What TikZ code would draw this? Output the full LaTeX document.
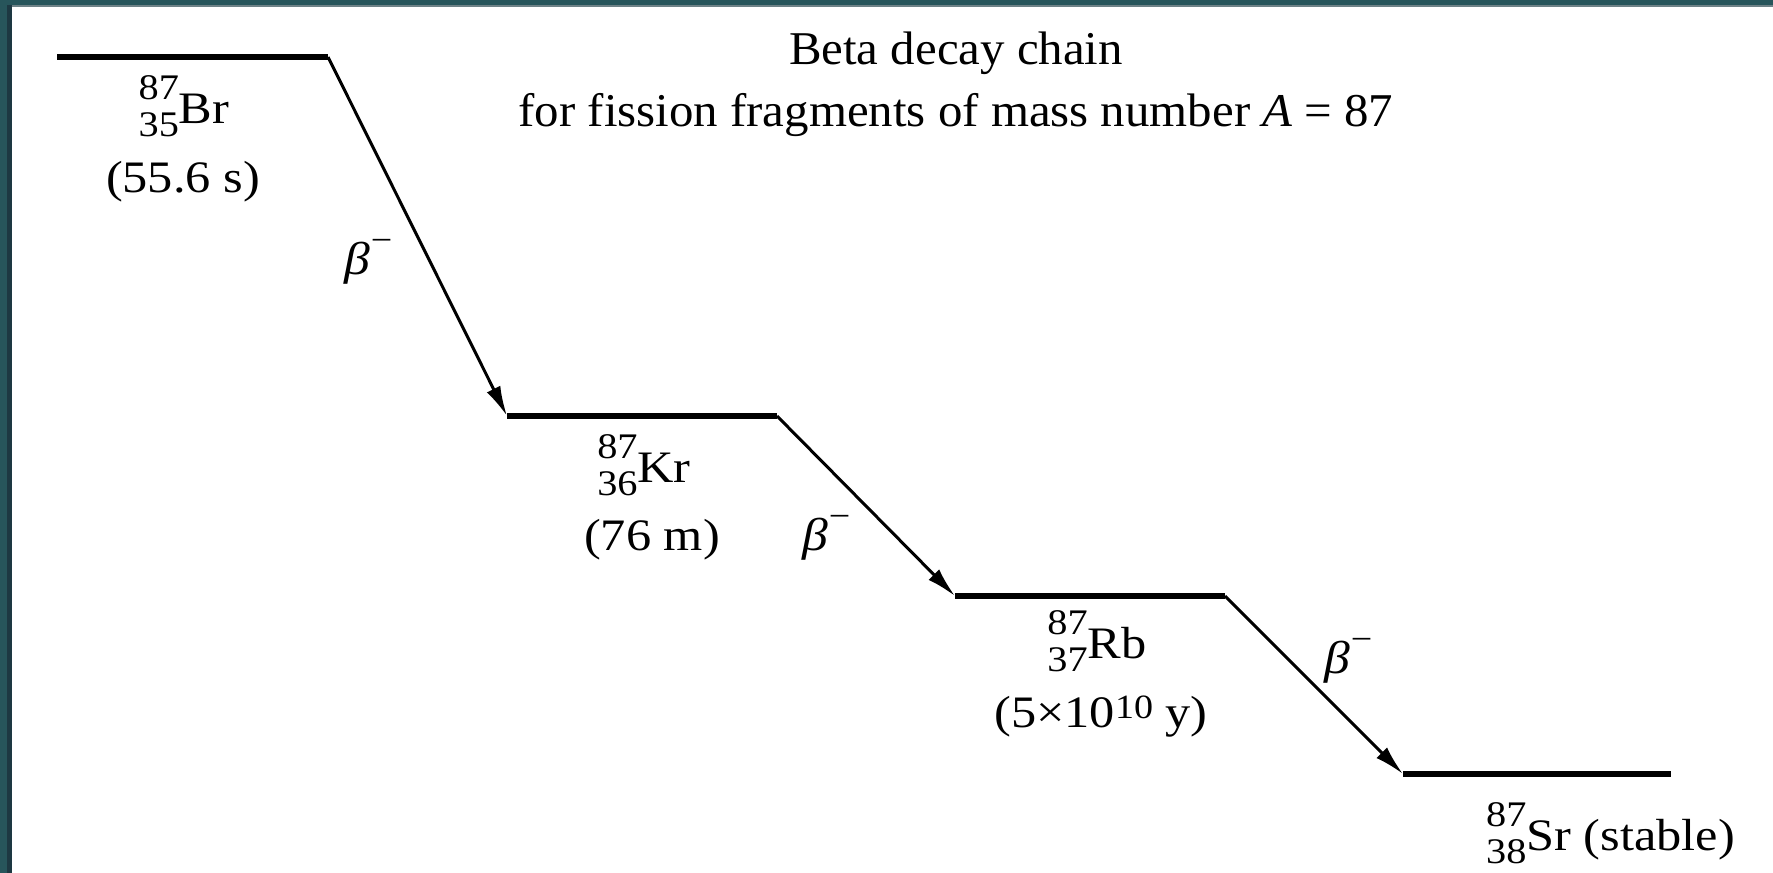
\documentclass[tikz,border=0pt]{standalone}
\usepackage{fontspec}
\setmainfont{Liberation Serif}[FakeStretch=1.12]
\newfontfamily\ttlfont{Liberation Serif}[FakeStretch=1.04]
\usetikzlibrary{arrows.meta}
\definecolor{frameteal}{HTML}{27555B}
\definecolor{framedark}{HTML}{1D3842}
\definecolor{framegrey}{HTML}{6E8287}
\newcommand\isotope[3]{\leavevmode\rlap{\raisebox{0.52em}{\fontsize{36}{36}\selectfont #1}}\raisebox{-0.31em}{\fontsize{36}{36}\selectfont #2}#3}
\newcommand\betaminus{\textit{β}\kern0.02em\raisebox{0.5em}{\fontsize{34}{34}\selectfont −}}
\tikzset{
  level/.style={line width=5.5pt},
  decay/.style={line width=3pt,-{Latex[length=30pt,width=15pt]}},
  lbl/.style={anchor=base,inner sep=0pt,font=\fontsize{45}{54}\selectfont},
  ttl/.style={anchor=base,inner sep=0pt,font=\ttlfont\fontsize{47}{56}\selectfont},
  blbl/.style={anchor=base west,inner sep=0pt,font=\fontsize{46}{54}\selectfont}
}
\begin{document}
\begin{tikzpicture}[x=1pt,y=-1pt]
\useasboundingbox (0,0) rectangle (1773,873);
\fill[white] (0,0) rectangle (1773,873);
% frame
\fill[frameteal] (0,0) rectangle (1773,5);
\fill[framegrey] (12,5) rectangle (1773,7);
\fill[frameteal] (0,0) rectangle (7,873);
\fill[framedark] (7,5) rectangle (12,873);
% level end points
\coordinate (brL) at (57,57);   \coordinate (brR) at (328,57);
\coordinate (krL) at (507,416); \coordinate (krR) at (777,416);
\coordinate (rbL) at (955,596); \coordinate (rbR) at (1225,596);
\coordinate (srL) at (1403,774);\coordinate (srR) at (1671,774);
% levels
\draw[level] (brL) -- (brR);
\draw[level] (krL) -- (krR);
\draw[level] (rbL) -- (rbR);
\draw[level] (srL) -- (srR);
% decays
\draw[decay] (brR) -- (krL);
\draw[decay] (krR) -- (rbL);
\draw[decay] (rbR) -- (srL);
% beta labels
\node[blbl] (b1) at (344,274) {\betaminus};
\node[blbl] (b2) at (802,550) {\betaminus};
\node[blbl] (b3) at (1324,673) {\betaminus};
% nuclide labels
\node[lbl] (br) at (184,123) {\isotope{87}{35}{Br}};
\node[lbl] (brt) at (183,192) {(55.6 s)};
\node[lbl] (kr) at (644,482) {\isotope{87}{36}{Kr}};
\node[lbl] (krt) at (652,550) {(76 m)};
\node[lbl] (rb) at (1097,658) {\isotope{87}{37}{Rb}};
\node[lbl] (rbt) at (1101,727) {(5×10\raisebox{0.2em}{\fontsize{34}{34}\selectfont 10} y)};
\node[lbl,anchor=base west] (sr) at (1486,850) {\isotope{87}{38}{Sr} (stable)};
% title
\node[ttl] (t1) at (956,64) {Beta decay chain};
\node[ttl] (t2) at (956,126) {for fission fragments of mass number \textit{A} = 87};
\end{tikzpicture}
\end{document}
